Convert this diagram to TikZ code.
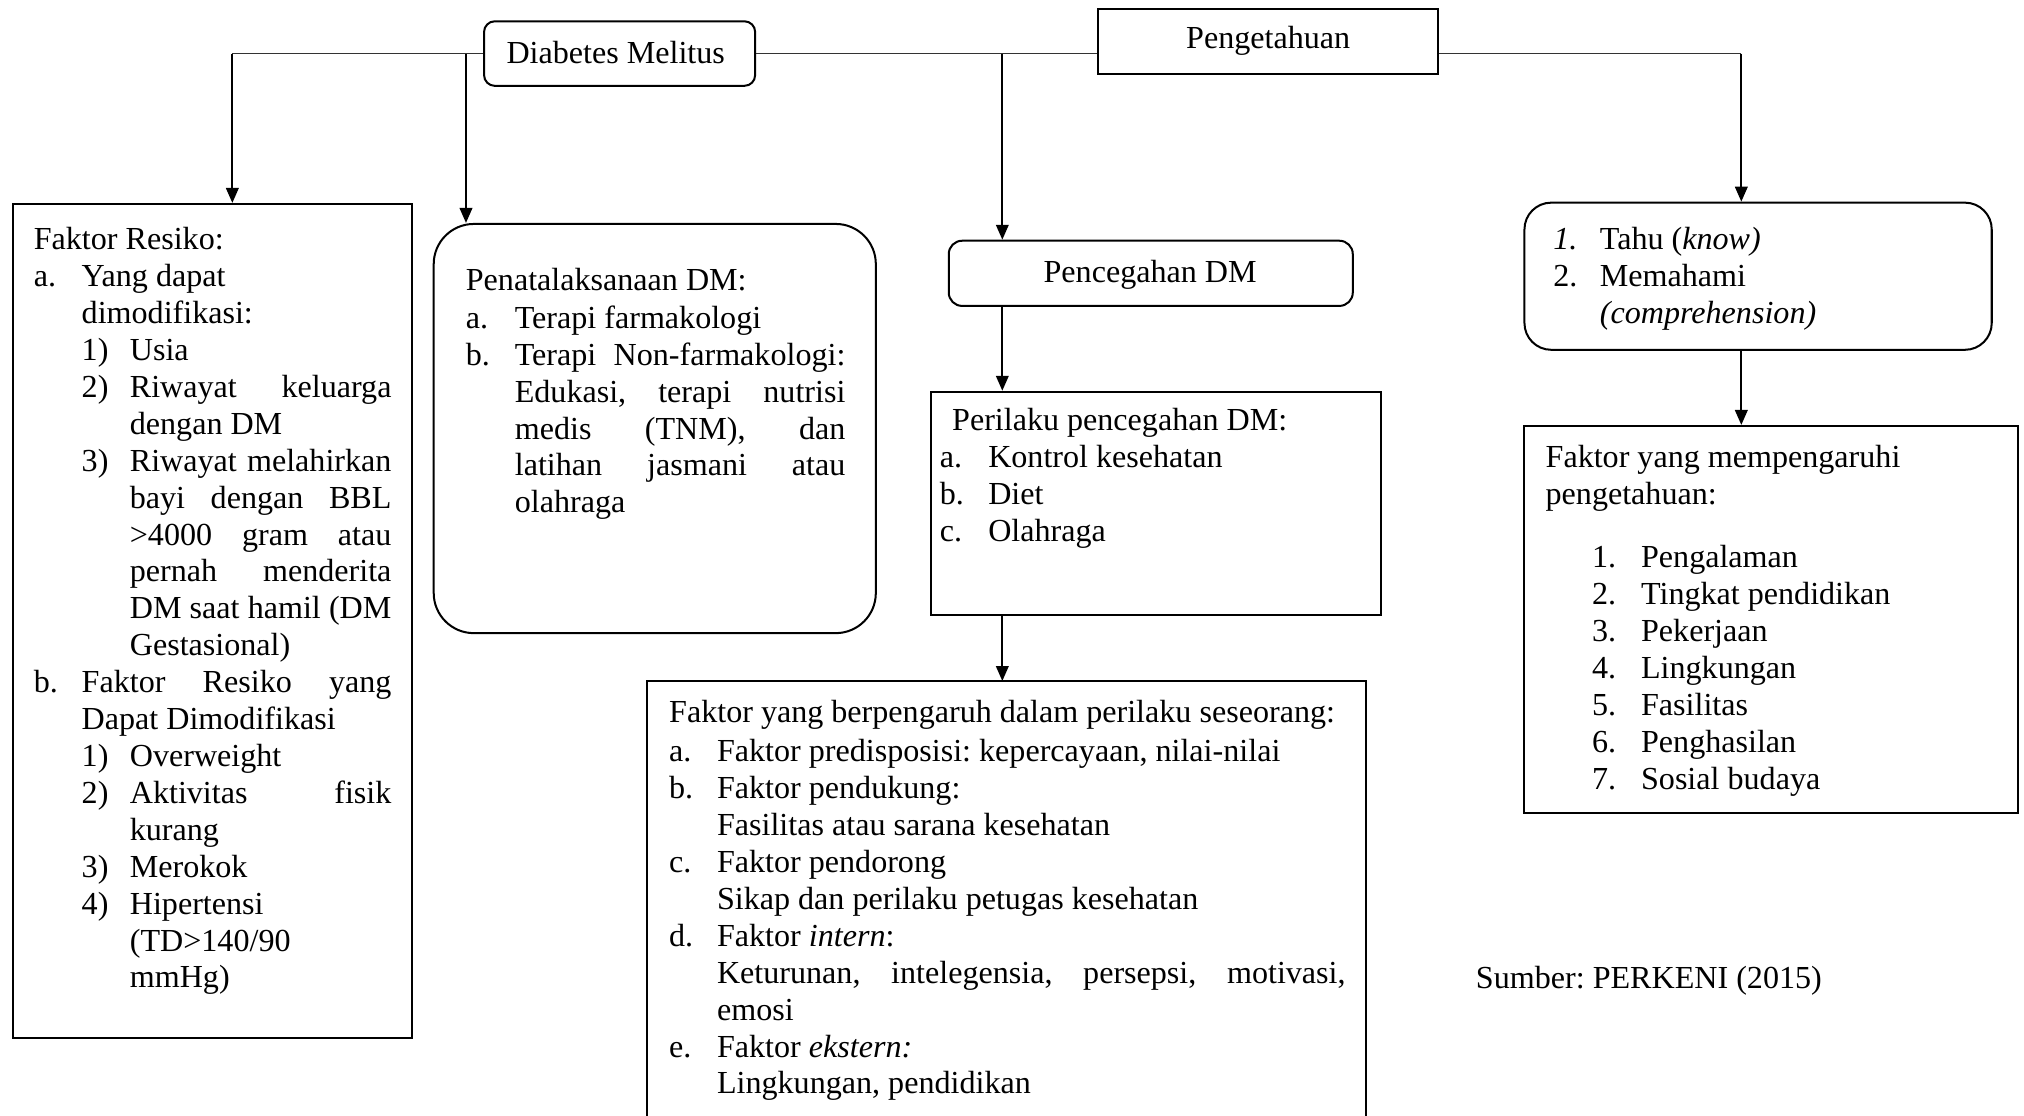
\documentclass[tikz,border=0pt]{standalone}
\usepackage{fontspec}
\setmainfont{Liberation Serif}
\usetikzlibrary{arrows.meta,fit}
\newcommand{\LB}[2]{\makebox[#1][l]{#2}}
\newcommand{\JS}[2]{\makebox[#1][s]{#2}}
\frenchspacing
\tikzset{
  box/.style={draw, line width=0.75pt, inner sep=0pt},
  txt/.style={inner sep=0pt, anchor=base west},
  ctxt/.style={inner sep=0pt, anchor=base},
  hline/.style={line width=0.6pt, black!80},
  arr/.style={line width=0.75pt, -{Triangle[length=5.6pt,width=4.7pt]}},
}
\begin{document}
\begin{tikzpicture}[x=0.4826pt,y=-0.4826pt,font=\fontsize{12pt}{13.8pt}\selectfont\frenchspacing]
\useasboundingbox (0,0) rectangle (1568,864);

% boxes
\node[box, rounded corners=4pt, fit={(375,16.5) (585,66.5)}] (dm) {};
\node[box, fit={(851,7) (1114,57)}] (pg) {};
\node[box, fit={(10,158) (319,804)}] (fr) {};
\node[box, rounded corners=15pt, fit={(336,173.5) (678.5,490.5)}] (pt) {};
\node[box, rounded corners=5pt, fit={(735,186.5) (1048,237)}] (pc) {};
\node[box, fit={(721,303.5) (1070,476.5)}] (pl) {};
\node[inner sep=0pt, fit={(502,528) (1058,864)}] (fb) {};
\draw[line width=0.75pt] (fb.south west) -- (fb.north west) -- (fb.north east) -- (fb.south east);
\node[box, rounded corners=10pt, fit={(1181,157) (1543,271)}] (th) {};
\node[box, fit={(1181,330) (1563,630)}] (fm) {};

% titles
\node[ctxt] (dmt) at (477,49.5) {Diabetes Melitus};
\node[ctxt] (pgt) at (982.5,37.5) {Pengetahuan};
\node[ctxt] (pct) at (891,219) {Pencegahan DM};

% connectors
\coordinate (c1) at (180,41.5);
\coordinate (c2) at (361,41.5);
\coordinate (c3) at (776.5,41.5);
\coordinate (c4) at (1349,41.5);
\draw[hline] (c1) -- (dm.west);
\draw[hline] (dm.east) -- (dm.east -| pg.west);
\draw[hline] (pg.east |- c4) -- (c4);
\draw[arr] (c1) -- (c1 |- fr.north);
\draw[arr] (c2) -- (c2 |- pt.north);
\draw[arr] (c3) -- (c3 |- pc.north);
\draw[arr] (c4) -- (c4 |- th.north);
\draw[arr] (c3 |- pc.south) -- (c3 |- pl.north);
\draw[arr] (c3 |- pl.south) -- (c3 |- fb.north);
\draw[arr] (c4 |- th.south) -- (c4 |- fm.north);

% Faktor Resiko
\node[txt] (frt) at (25.8,193.5) {\parbox[t]{140pt}{\raggedright
Faktor Resiko:\\
\LB{17.9pt}{a.}Yang dapat\\
\hspace*{17.9pt}dimodifikasi:\\
\hspace*{17.9pt}\LB{18pt}{1)}Usia\\
\hspace*{17.9pt}\LB{18pt}{2)}\JS{97.8pt}{Riwayat keluarga}\\
\hspace*{35.9pt}dengan DM\\
\hspace*{17.9pt}\LB{18pt}{3)}\JS{97.8pt}{Riwayat melahirkan}\\
\hspace*{35.9pt}\JS{97.8pt}{bayi dengan BBL}\\
\hspace*{35.9pt}\JS{97.8pt}{>4000 gram atau}\\
\hspace*{35.9pt}\JS{97.8pt}{pernah menderita}\\
\hspace*{35.9pt}\JS{97.8pt}{DM saat hamil (DM}\\
\hspace*{35.9pt}Gestasional)\\
\LB{17.9pt}{b.}\JS{115.8pt}{Faktor Resiko yang}\\
\hspace*{17.9pt}Dapat Dimodifikasi\\
\hspace*{17.9pt}\LB{18pt}{1)}Overweight\\
\hspace*{17.9pt}\LB{18pt}{2)}\JS{97.8pt}{Aktivitas fisik}\\
\hspace*{35.9pt}kurang\\
\hspace*{17.9pt}\LB{18pt}{3)}Merokok\\
\hspace*{17.9pt}\LB{18pt}{4)}Hipertensi\\
\hspace*{35.9pt}(TD>140/90\\
\hspace*{35.9pt}mmHg)}};

% Penatalaksanaan
\node[txt] (ptt) at (360.5,224.7) {\parbox[t]{150pt}{\raggedright
Penatalaksanaan DM:\\[0.5pt]
\LB{18.3pt}{a.}Terapi farmakologi\\
\LB{18.3pt}{b.}\JS{123.6pt}{Terapi Non-farmakologi:}\\
\hspace*{18.3pt}\JS{123.6pt}{Edukasi, terapi nutrisi}\\
\hspace*{18.3pt}\JS{123.6pt}{medis (TNM), dan}\\
\hspace*{18.3pt}\JS{123.6pt}{latihan jasmani atau}\\
\hspace*{18.3pt}olahraga}};

% Perilaku
\node[txt] (plt) at (727.7,333.6) {\parbox[t]{160pt}{\raggedright
\hspace*{4.6pt}Perilaku pencegahan DM:\\
\LB{18.1pt}{a.}Kontrol kesehatan\\
\LB{18.1pt}{b.}Diet\\
\LB{18.1pt}{c.}Olahraga}};

% Faktor berpengaruh
\node[txt] (fbt) at (518,559.5) {\parbox[t]{260pt}{\raggedright
Faktor yang berpengaruh dalam perilaku seseorang:\\[1pt]
\LB{17.9pt}{a.}Faktor predisposisi: kepercayaan, nilai-nilai\\
\LB{17.9pt}{b.}Faktor pendukung:\\
\hspace*{17.9pt}Fasilitas atau sarana kesehatan\\
\LB{17.9pt}{c.}Faktor pendorong\\
\hspace*{17.9pt}Sikap dan perilaku petugas kesehatan\\
\LB{17.9pt}{d.}Faktor \textit{intern}:\\
\hspace*{17.9pt}\JS{235pt}{Keturunan, intelegensia, persepsi, motivasi,}\\
\hspace*{17.9pt}emosi\\
\LB{17.9pt}{e.}Faktor \textit{ekstern:}\\
\hspace*{17.9pt}Lingkungan, pendidikan}};

% Tahu
\node[txt] (tht) at (1203,193.5) {\parbox[t]{160pt}{\raggedright
\LB{17.4pt}{\textit{1.}}Tahu (\textit{know)}\\
\LB{17.4pt}{2.}Memahami\\
\hspace*{17.4pt}\textit{(comprehension)}}};

% Faktor mempengaruhi
\node[txt] (fmt) at (1197,362.5) {\parbox[t]{170pt}{\raggedright
Faktor yang mempengaruhi\\
pengetahuan:\\[9.8pt]
\hspace*{17.4pt}\LB{18.3pt}{1.}Pengalaman\\
\hspace*{17.4pt}\LB{18.3pt}{2.}Tingkat pendidikan\\
\hspace*{17.4pt}\LB{18.3pt}{3.}Pekerjaan\\
\hspace*{17.4pt}\LB{18.3pt}{4.}Lingkungan\\
\hspace*{17.4pt}\LB{18.3pt}{5.}Fasilitas\\
\hspace*{17.4pt}\LB{18.3pt}{6.}Penghasilan\\
\hspace*{17.4pt}\LB{18.3pt}{7.}Sosial budaya}};

% source
\node[txt] (src) at (1143,765.5) {Sumber: PERKENI (2015)};
\end{tikzpicture}
\end{document}
